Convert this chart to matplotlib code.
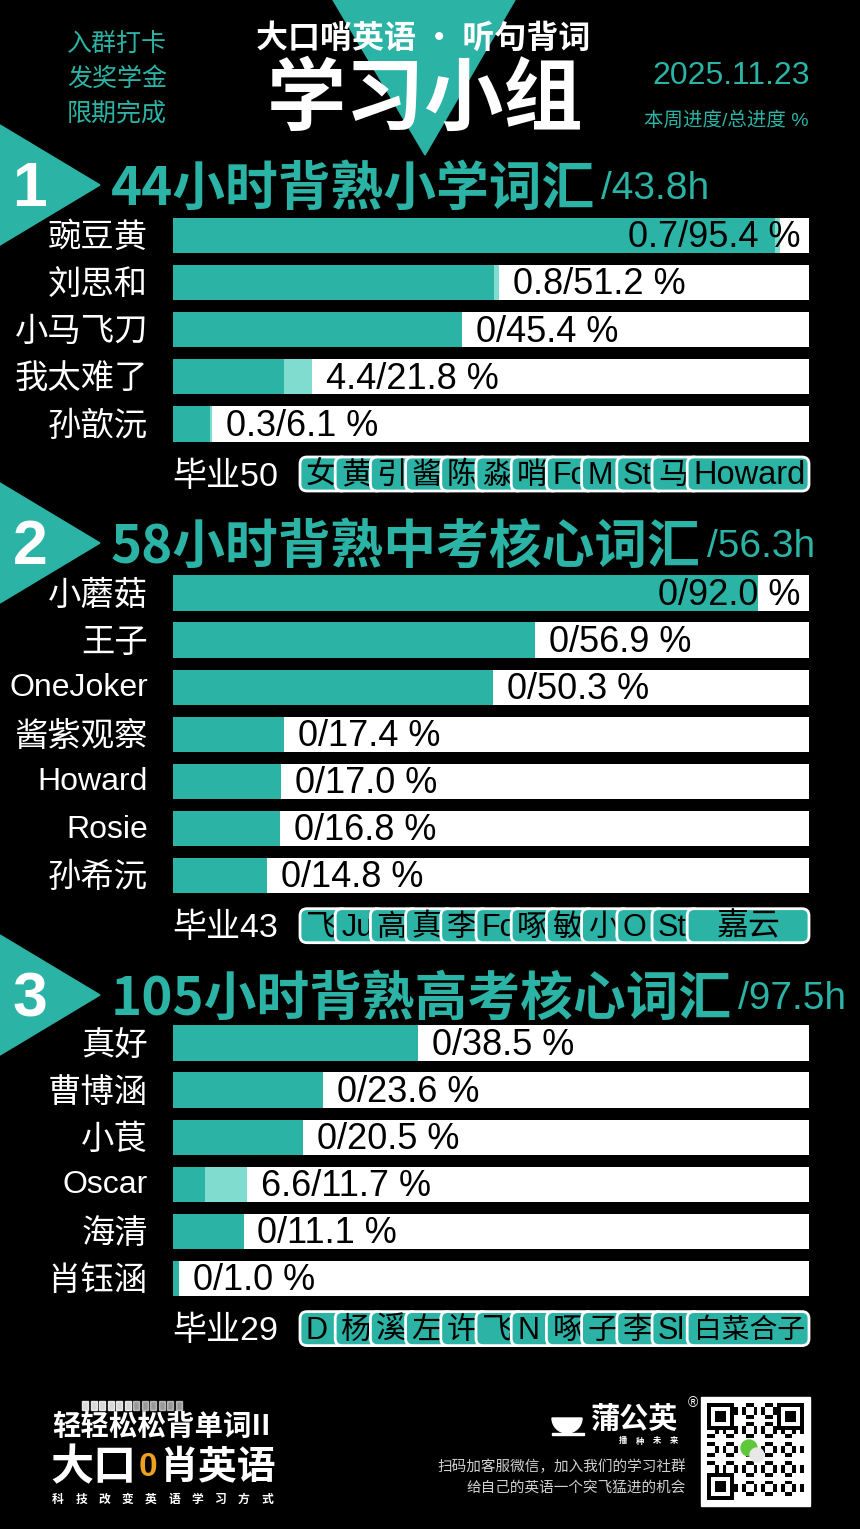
import matplotlib
matplotlib.use("Agg")
import matplotlib.pyplot as plt
from matplotlib.patches import Polygon, FancyBboxPatch, Rectangle, Circle, Wedge

# ---------------- data ----------------
g1_names = ["豌豆黄", "刘思和", "小马飞刀", "我太难了", "孙歆沅"]
g1_week = [0.7, 0.8, 0, 4.4, 0.3]
g1_total = [95.4, 51.2, 45.4, 21.8, 6.1]
g1_title = "44小时背熟小学词汇"
g1_hours = "/43.8h"
g1_grad = 50
g1_chips = ["女", "黄", "引", "酱", "陈", "淼", "哨", "Fo", "M", "St", "马", "Howard"]

g2_names = ["小蘑菇", "王子", "OneJoker", "酱紫观察", "Howard", "Rosie", "孙希沅"]
g2_week = [0, 0, 0, 0, 0, 0, 0]
g2_total = [92.0, 56.9, 50.3, 17.4, 17.0, 16.8, 14.8]
g2_title = "58小时背熟中考核心词汇"
g2_hours = "/56.3h"
g2_grad = 43
g2_chips = ["飞", "Ju", "高", "真", "李", "Fo", "啄", "敏", "小", "O", "St", "嘉云"]

g3_names = ["真好", "曹博涵", "小茛", "Oscar", "海清", "肖钰涵"]
g3_week = [0, 0, 0, 6.6, 0, 0]
g3_total = [38.5, 23.6, 20.5, 11.7, 11.1, 1.0]
g3_title = "105小时背熟高考核心词汇"
g3_hours = "/97.5h"
g3_grad = 29
g3_chips = ["D", "杨", "溪", "左", "许", "飞", "N", "啄", "子", "李", "Sl", "白菜合子"]

# ---------------- style ----------------
W, H = 860, 1529
TEAL = "#2bb3a5"
LIGHT = "#7fdccf"
CJK = ["Noto Sans CJK SC", "DejaVu Sans"]
MIX = ["Liberation Sans", "Noto Sans CJK SC", "DejaVu Sans"]
LAT = ["Liberation Sans", "DejaVu Sans"]

fig = plt.figure(figsize=(W / 100, H / 100), dpi=100, facecolor="black")
bg = fig.add_axes([0, 0, 1, 1])
bg.set_xlim(0, W)
bg.set_ylim(H, 0)
bg.set_facecolor("black")
bg.axis("off")

# top triangle + header
bg.add_patch(Polygon([(333, 0), (515, 0), (425, 155)], closed=True, color=TEAL, zorder=1))
bg.text(423, 39, "大口哨英语 · 听句背词", color="white", fontsize=23, fontweight="bold",
        family=CJK, ha="center", va="center", zorder=3)
bg.text(425, 100, "学习小组", color="white", fontsize=57, fontweight="bold",
        family=CJK, ha="center", va="center", zorder=3)
for i, s in enumerate(["入群打卡", "发奖学金", "限期完成"]):
    bg.text(117, 44 + 35 * i, s, color=TEAL, fontsize=18, family=CJK,
            ha="center", va="center")
bg.text(731, 76, "2025.11.23", color=TEAL, fontsize=23, family=LAT, ha="center", va="center")
bg.text(726, 121, "本周进度/总进度 %", color=TEAL, fontsize=14, family=MIX, ha="center", va="center")

groups = [
    dict(num="1", cy=185, names=g1_names, week=g1_week, total=g1_total, title=g1_title,
         hours=g1_hours, grad=g1_grad, chips=g1_chips, row0=235.5),
    dict(num="2", cy=543, names=g2_names, week=g2_week, total=g2_total, title=g2_title,
         hours=g2_hours, grad=g2_grad, chips=g2_chips, row0=593),
    dict(num="3", cy=995, names=g3_names, week=g3_week, total=g3_total, title=g3_title,
         hours=g3_hours, grad=g3_grad, chips=g3_chips, row0=1043),
]

PITCH = 47.1
BX0, BX1 = 173, 809
renderer = fig.canvas.get_renderer()

for g in groups:
    cy = g["cy"]
    bg.add_patch(Polygon([(0, cy - 60), (100, cy), (0, cy + 60)], closed=True, color=TEAL, zorder=1))
    bg.text(30, cy + 5, g["num"], color="white", fontsize=45, fontweight="bold", family=LAT,
            ha="center", va="center", zorder=3)
    t = bg.text(111, cy + 4, g["title"], color=TEAL, fontsize=38, fontweight="heavy", family=CJK,
                ha="left", va="center", zorder=3)
    bb = t.get_window_extent(renderer=renderer)
    x_end = bb.x1  # display px == data px horizontally
    bg.text(x_end + 6, cy + 4, g["hours"], color=TEAL, fontsize=28, family=LAT,
            ha="left", va="center", zorder=3)

    n = len(g["names"])
    top = g["row0"] - PITCH / 2
    bottom = top + n * PITCH
    ax = fig.add_axes([BX0 / W, 1 - bottom / H, (BX1 - BX0) / W, (bottom - top) / H])
    ax.set_xlim(0, 100)
    ax.set_ylim(n - 0.5, -0.5)
    ax.axis("off")
    ax.patch.set_alpha(0)
    ys = list(range(n))
    ax.barh(ys, [100] * n, height=0.75, color="white", zorder=1)
    ax.barh(ys, g["total"], height=0.75, color=TEAL, zorder=2)
    ax.barh(ys, g["week"], left=[t_ - w_ for t_, w_ in zip(g["total"], g["week"])],
            height=0.75, color=LIGHT, zorder=3)
    for i, (nm, w_, t_) in enumerate(zip(g["names"], g["week"], g["total"])):
        lab = f"{w_:g}/{t_:.1f} %"
        if t_ > 80:
            ax.text(98.6, i + 0.05, lab, color="black", fontsize=26, family=LAT,
                    ha="right", va="center", zorder=4)
        else:
            ax.annotate(lab, (t_, i + 0.05), xytext=(10, 0), textcoords="offset points",
                        color="black", fontsize=26, family=LAT, ha="left", va="center", zorder=4)
        is_latin = all(ord(c) < 128 for c in nm)
        bg.text(148, g["row0"] + i * PITCH + (1 if is_latin else 3), nm, color="white",
                fontsize=23 if is_latin else 24, family=MIX, ha="right", va="center")

    # graduates row
    gy = g["row0"] + n * PITCH + 3
    bg.text(172, gy + 3, f"毕业{g['grad']}", color="white", fontsize=24.5, family=MIX,
            ha="left", va="center")
    chips = g["chips"]
    step = 35.2
    ch_h = 34
    for k, name in enumerate(chips):
        left = 300 + step * k
        last = k == len(chips) - 1
        right = BX1 if last else left + 48
        p = FancyBboxPatch((left, gy - ch_h / 2), right - left, ch_h,
                           boxstyle="round,pad=0,rounding_size=7",
                           facecolor=TEAL, edgecolor="white", linewidth=2, zorder=5 + k * 0.01)
        bg.add_patch(p)
        if last:
            if all(ord(c) < 128 for c in name):
                fs = 23.5
            elif len(name) >= 4:
                fs = 20
            else:
                fs = 23
            bg.text((left + right) / 2 + 1, gy + 2, name, color="black", fontsize=fs, family=MIX,
                    ha="center", va="center", zorder=5 + k * 0.01 + 0.005)
        else:
            tx = bg.text(left + 6, gy + 2, name, color="black", fontsize=22, family=MIX,
                         ha="left", va="center", zorder=5 + k * 0.01 + 0.005)
            clip = Rectangle((left, gy - ch_h / 2), step + 1, ch_h, transform=bg.transData)
            tx.set_clip_path(clip)

# ---------------- footer ----------------
for k in range(12):
    bg.add_patch(Rectangle((82 + k * 8.5, 1401), 6, 9, color="white", alpha=0.85 if k < 6 else 0.6))
bg.text(52, 1427, "轻轻松松背单词II", color="white", fontsize=20.5, fontweight="bold",
        family=CJK, ha="left", va="center")
bg.text(50, 1467, "大口", color="white", fontsize=31, fontweight="bold", family=CJK,
        ha="left", va="center")
bg.text(139, 1468, "0", color="#f0a020", fontsize=24, fontweight="bold", family=LAT,
        ha="left", va="center")
bg.text(159, 1467, "肖英语", color="white", fontsize=28, fontweight="bold", family=CJK,
        ha="left", va="center")
for i, ch in enumerate("科技改变英语学习方式"):
    bg.text(58 + 23.2 * i, 1499, ch, color="white", fontsize=8.5, fontweight="bold",
            family=CJK, ha="center", va="center")

# dandelion logo
bg.add_patch(Wedge((567, 1418), 15, 0, 180, color="white"))
bg.add_patch(Rectangle((552, 1433), 32, 2, color="white"))
bg.text(634, 1419, "蒲公英", color="white", fontsize=21, fontweight="bold", family=CJK,
        ha="center", va="center")
bg.text(693, 1403, "®", color="white", fontsize=10, family=LAT, ha="center", va="center")
for i, ch in enumerate("播种未来"):
    bg.text(623 + 17 * i, 1441, ch, color="white", fontsize=6, fontweight="bold",
            family=CJK, ha="center", va="center")
bg.text(686, 1467, "扫码加客服微信，加入我们的学习社群", color="#d0d0d0", fontsize=10.5,
        family=CJK, ha="right", va="center")
bg.text(686, 1488, "给自己的英语一个突飞猛进的机会", color="#d0d0d0", fontsize=10.5,
        family=CJK, ha="right", va="center")

# QR-like block
qx, qy, qs = 701, 1397, 109
bg.add_patch(Rectangle((qx, qy), qs, qs, color="white"))
m = 25
cell = (qs - 12) / m
ox, oy = qx + 6, qy + 6
for i in range(m):
    for j in range(m):
        finder = (i < 7 and j < 7) or (i < 7 and j >= m - 7) or (i >= m - 7 and j < 7)
        if finder:
            a = i if i < 7 else i - (m - 7)
            b = j if j < 7 else j - (m - 7)
            on = (a in (0, 6) or b in (0, 6)) or (2 <= a <= 4 and 2 <= b <= 4)
        else:
            on = ((i * 7 + j * 11 + i * j) % 5) < 2
        if on:
            bg.add_patch(Rectangle((ox + j * cell, oy + i * cell), cell, cell, color="black", lw=0))
bg.add_patch(Circle((749, 1448), 8, color="#5fc83a", zorder=4))
bg.add_patch(Circle((757, 1455), 7, color="#e8e8e8", zorder=4))

fig.savefig("out.png", dpi=100, facecolor="black")
